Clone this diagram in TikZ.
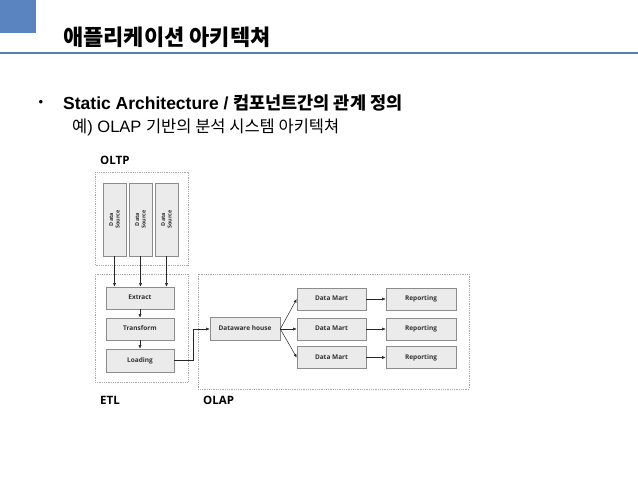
\documentclass[tikz,border=0pt]{standalone}
\usepackage{fontspec}
\setmainfont{Liberation Sans}
\newfontfamily\kr{Noto Sans CJK KR}
\newfontfamily\dg{Open Sans}
\usetikzlibrary{arrows.meta}
\definecolor{hdrblue}{HTML}{5A84C0}
\definecolor{lineblue}{HTML}{5B7FAF}
\definecolor{boxfill}{HTML}{EBEBEB}
\definecolor{boxdraw}{HTML}{8C8C8C}
\definecolor{contdraw}{HTML}{A8A8A8}
\begin{document}
\begin{tikzpicture}[x=1pt,y=-1pt,
  cont/.style={draw=contdraw, densely dotted, line width=0.8pt},
  cbox/.style={draw=boxdraw, fill=boxfill, line width=0.6pt, inner sep=0pt, text height=5pt, text depth=1.5pt, text=black!80, font=\dg\bfseries\fontsize{6.5}{8}\selectfont},
  grplabel/.style={anchor=west, font=\dg\bfseries\fontsize{11.5}{13}\selectfont, inner sep=0pt},
  arr/.style={-{Latex[length=3.5pt,width=3pt]}, line width=0.5pt, black!85}
]
\useasboundingbox (0,0) rectangle (638,479);
\fill[hdrblue] (0,0) rectangle (36,33);
\draw[lineblue, line width=2pt] (0,53) -- (638,53);
\node[anchor=west, inner sep=0pt, font=\kr\bfseries\fontsize{22}{25}\selectfont] (title) at (63,37) {애플리케이션 아키텍쳐};
\node[anchor=center, inner sep=0pt, font=\fontsize{13}{15}\selectfont] (bullet) at (41,103) {•};
\node[anchor=west, inner sep=0pt, font=\bfseries\fontsize{17.5}{20}\selectfont] (static) at (63,103) {Static Architecture / {\kr 컴포넌트간의 관계 정의}};
\node[anchor=west, inner sep=0pt, font=\fontsize{16.5}{19}\selectfont] (sub) at (72,127) {{\kr 예}) OLAP {\kr 기반의 분석 시스템 아키텍쳐}};

% containers
\draw[cont] (95,172) rectangle (188,265);
\draw[cont] (95,274) rectangle (188,382);
\draw[cont] (198,274) rectangle (469,389);
\node[grplabel] (oltp) at (100,160) {OLTP};
\node[grplabel] (etl) at (100,400) {ETL};
\node[grplabel] (olap) at (203,400) {OLAP};

% data sources
\foreach \i/\x in {1/114.5, 2/140.5, 3/166.5}{
  \node[cbox, minimum width=23pt, minimum height=73pt] (ds\i) at (\x,219.5) {};
  \node[rotate=90, align=center, inner sep=0pt, text=black!80, font=\dg\bfseries\fontsize{5.5}{6.5}\selectfont] at (ds\i.center) {Data\\Source};
}
% ETL
\node[cbox, minimum width=68pt, minimum height=22pt] (extract) at (140,298) {Extract};
\node[cbox, minimum width=68pt, minimum height=22pt] (transform) at (140,329) {Transform};
\node[cbox, minimum width=68pt, minimum height=23pt] (loading) at (140,360.5) {Loading};
% OLAP
\node[cbox, minimum width=70pt, minimum height=23pt] (dw) at (245,329) {Dataware house};
\foreach \i/\y in {1/299, 2/329, 3/357.5}{
  \node[cbox, minimum width=69pt, minimum height=22pt] (dm\i) at (331.5,\y) {Data Mart};
  \node[cbox, minimum width=70pt, minimum height=22pt] (rp\i) at (421,\y) {Reporting};
  \draw[arr] (dm\i) -- (rp\i);
  \draw[arr] (dw.east) -- (dm\i.west);
}
\foreach \i in {1,2,3}{ \draw[arr] (ds\i.south) -- (ds\i.south |- extract.north); }
\draw[arr] (extract) -- (transform);
\draw[arr] (transform) -- (loading);
\coordinate (bend) at (193,360.5);
\draw[arr] (loading.east) -- (bend) |- (dw.west);
\end{tikzpicture}
\end{document}
